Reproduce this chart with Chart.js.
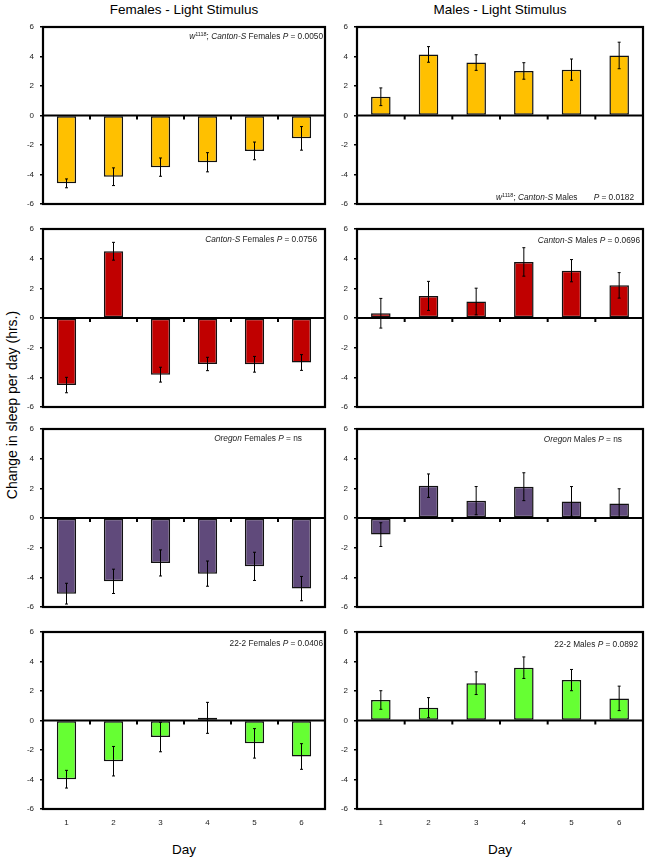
<!DOCTYPE html>
<html>
<head>
<meta charset="utf-8">
<script src="https://cdn.jsdelivr.net/npm/chart.js@4.4.1/dist/chart.umd.min.js"></script>
<style>
body{margin:0;width:648px;height:860px;position:relative;background:#fff;overflow:hidden;font-family:"Liberation Sans",Arial,sans-serif}
canvas{position:absolute}
.lbl{position:absolute;font-size:13.5px;color:#000;white-space:nowrap;transform:translate(-50%,-50%)}
.ytitle{position:absolute;font-size:14px;white-space:nowrap;transform:translate(-50%,-50%) rotate(-90deg)}
</style>
</head>
<body>
<div class="lbl" style="left:184px;top:9px">Females - Light Stimulus</div>
<div class="lbl" style="left:500px;top:9px">Males - Light Stimulus</div>
<div class="lbl" style="left:184px;top:849px">Day</div>
<div class="lbl" style="left:500px;top:849px">Day</div>
<div class="ytitle" style="left:12px;top:405px">Change in sleep per day (hrs.)</div>

<script>
// values (hrs.), error = half length of whisker
var days = ['1', '2', '3', '4', '5', '6'];
var yTicks = [-6, -4, -2, 0, 2, 4, 6];

var w1118Females = [-4.6, -4.15, -3.5, -3.17, -2.4, -1.55];
var w1118FemalesErr = [0.3, 0.6, 0.62, 0.65, 0.6, 0.8];
var w1118Males = [1.27, 4.14, 3.59, 3.02, 3.11, 4.07];
var w1118MalesErr = [0.6, 0.53, 0.53, 0.56, 0.72, 0.9];

var cantonFemales = [-4.52, 4.5, -3.82, -3.1, -3.12, -3.0];
var cantonFemalesErr = [0.52, 0.6, 0.5, 0.45, 0.53, 0.53];
var cantonMales = [0.32, 1.49, 1.11, 3.78, 3.19, 2.2];
var cantonMalesErr = [1.0, 0.98, 0.9, 0.96, 0.75, 0.86];

var oregonFemales = [-5.1, -4.27, -3.03, -3.75, -3.26, -4.76];
var oregonFemalesErr = [0.7, 0.82, 0.88, 0.85, 0.95, 0.82];
var oregonMales = [-1.12, 2.18, 1.17, 2.11, 1.12, 0.97];
var oregonMalesErr = [0.8, 0.79, 0.95, 0.94, 1.0, 1.0];

var line22Females = [-3.98, -2.76, -1.12, 0.18, -1.55, -2.44];
var line22FemalesErr = [0.6, 1.0, 1.0, 1.05, 1.0, 0.87];
var line22Males = [1.39, 0.87, 2.53, 3.58, 2.74, 1.5];
var line22MalesErr = [0.63, 0.68, 0.77, 0.73, 0.72, 0.83];

// rich text labels: [text, style]  style: '' | 'i' | 'sup'
var notes = {
	w1118F: [['w', 'i'], ['1118', 'sup'], ['; ', ''], ['Canton-S', 'i'], [' Females ', ''], ['P', 'i'], [' = 0.0050', '']],
	w1118M: [['w', 'i'], ['1118', 'sup'], ['; ', ''], ['Canton-S', 'i'], [' Males       ', ''], ['P', 'i'], [' = 0.0182', '']],
	cantonF: [['Canton-S', 'i'], [' Females ', ''], ['P', 'i'], [' = 0.0756', '']],
	cantonM: [['Canton-S', 'i'], [' Males ', ''], ['P', 'i'], [' = 0.0696', '']],
	oregonF: [['Oregon', 'i'], [' Females ', ''], ['P', 'i'], [' = ns', '']],
	oregonM: [['Oregon', 'i'], [' Males ', ''], ['P', 'i'], [' = ns', '']],
	line22F: [['22-2 Females ', ''], ['P', 'i'], [' = 0.0406', '']],
	line22M: [['22-2 Males ', ''], ['P', 'i'], [' = 0.0892', '']]
};

var FONT = '"Liberation Sans", Arial, sans-serif';
var colLeft = [43, 357], colRight = [325, 643];
var rowTop = [27, 229, 429, 632], rowBottom = [204, 407, 607, 809];
var PAD = 12; // room above/below the plot box so tick labels never push it

var panels = [
	{col: 0, row: 0, values: w1118Females, errors: w1118FemalesErr, color: '#FFC000', note: notes.w1118F, noteAt: {dx: 2, dy: 10}},
	{col: 1, row: 0, values: w1118Males, errors: w1118MalesErr, color: '#FFC000', note: notes.w1118M, noteAt: {dx: 9, dy: -6}},
	{col: 0, row: 1, values: cantonFemales, errors: cantonFemalesErr, color: '#C00000', note: notes.cantonF, noteAt: {dx: 8, dy: 11}},
	{col: 1, row: 1, values: cantonMales, errors: cantonMalesErr, color: '#C00000', note: notes.cantonM, noteAt: {dx: 3, dy: 12}},
	{col: 0, row: 2, values: oregonFemales, errors: oregonFemalesErr, color: '#604A7B', note: notes.oregonF, noteAt: {dx: 23, dy: 10}},
	{col: 1, row: 2, values: oregonMales, errors: oregonMalesErr, color: '#604A7B', note: notes.oregonM, noteAt: {dx: 21, dy: 11}},
	{col: 0, row: 3, values: line22Females, errors: line22FemalesErr, color: '#66FF33', note: notes.line22F, noteAt: {dx: 2, dy: 12}},
	{col: 1, row: 3, values: line22Males, errors: line22MalesErr, color: '#66FF33', note: notes.line22M, noteAt: {dx: 5, dy: 13}}
];

function segFont(style){
	if(style === 'i') return 'italic 8.3px ' + FONT;
	if(style === 'sup') return '5.5px ' + FONT;
	return '8.3px ' + FONT;
}

var panelDecor = {
	id: 'panelDecor',
	afterDatasetsDraw(chart, args, opts){
		var ctx = chart.ctx, a = chart.chartArea;
		var x = chart.scales.x, y = chart.scales.y;
		var meta = chart.getDatasetMeta(0);
		var data = chart.data.datasets[0].data;
		ctx.save();

		// error bars
		ctx.strokeStyle = '#000';
		ctx.lineWidth = 1;
		meta.data.forEach((bar, i) => {
			var y1 = y.getPixelForValue(data[i] - opts.errors[i]);
			var y2 = y.getPixelForValue(data[i] + opts.errors[i]);
			ctx.beginPath();
			ctx.moveTo(bar.x, y1); ctx.lineTo(bar.x, y2);
			ctx.moveTo(bar.x - 1.5, y1); ctx.lineTo(bar.x + 1.5, y1);
			ctx.moveTo(bar.x - 1.5, y2); ctx.lineTo(bar.x + 1.5, y2);
			ctx.stroke();
		});

		// zero axis with outward tick marks at category boundaries
		var y0 = y.getPixelForValue(0);
		ctx.lineWidth = 2.2;
		ctx.beginPath();
		ctx.moveTo(a.left, y0); ctx.lineTo(a.right, y0);
		ctx.stroke();
		ctx.fillStyle = '#000';
		for(var i = 1; i < data.length; i++){
			var bx = (x.getPixelForValue(i - 1) + x.getPixelForValue(i)) / 2;
			ctx.fillRect(bx - 1, y0, 2, 4);
		}

		// plot frame
		ctx.lineWidth = 2.2;
		ctx.strokeRect(a.left, a.top, a.right - a.left, a.bottom - a.top);

		// annotation text
		var segs = opts.note, total = 0;
		segs.forEach(s => { ctx.font = segFont(s[1]); total += ctx.measureText(s[0]).width; });
		var tx = a.right - opts.noteAt.dx - total;
		var ty = opts.noteAt.dy >= 0 ? a.top + opts.noteAt.dy : a.bottom + opts.noteAt.dy;
		ctx.textBaseline = 'middle';
		ctx.textAlign = 'left';
		ctx.fillStyle = '#222';
		segs.forEach(s => {
			ctx.font = segFont(s[1]);
			ctx.fillText(s[0], tx, s[1] === 'sup' ? ty - 3 : ty);
			tx += ctx.measureText(s[0]).width;
		});
		ctx.restore();
	}
};

panels.forEach(p => {
	var bottomRow = p.row === 3;
	var padBottom = bottomRow ? 4 : PAD;
	var plotW = colRight[p.col] - colLeft[p.col];
	var plotH = rowBottom[p.row] - rowTop[p.row];
	var cv = document.createElement('canvas');
	cv.width = plotW + 30 + 4;
	cv.height = plotH + PAD + padBottom + (bottomRow ? 20 : 0);
	cv.style.left = (colLeft[p.col] - 30) + 'px';
	cv.style.top = (rowTop[p.row] - PAD) + 'px';
	document.body.appendChild(cv);

	new Chart(cv, {
		type: 'bar',
		data: {
			labels: days,
			datasets: [{
				data: p.values,
				backgroundColor: p.color,
				borderColor: '#111',
				borderWidth: 1.5,
				borderSkipped: false,
				barPercentage: 0.41,
				categoryPercentage: 1
			}]
		},
		options: {
			responsive: false,
			animation: false,
			devicePixelRatio: 1,
			layout: {padding: {top: PAD, bottom: padBottom, left: 0, right: 4}},
			plugins: {
				legend: {display: false},
				tooltip: {enabled: false},
				panelDecor: {errors: p.errors, note: p.note, noteAt: p.noteAt}
			},
			scales: {
				x: {
					display: bottomRow,
					offset: true,
					afterFit: s => { s.height = bottomRow ? 20 : 0; },
					grid: {display: false, drawTicks: false},
					border: {display: false},
					ticks: {font: {size: 8, family: FONT}, color: '#222', padding: 9}
				},
				y: {
					min: -6,
					max: 6,
					afterFit: s => { s.width = 30; },
					afterBuildTicks: s => { s.ticks = yTicks.map(v => ({value: v})); },
					ticks: {font: {size: 8, family: FONT}, color: '#222', padding: 6},
					grid: {drawOnChartArea: false, drawTicks: true, tickLength: 3, color: '#000', lineWidth: 1.5},
					border: {display: false}
				}
			}
		},
		plugins: [panelDecor]
	});
});
</script>
</body>
</html>
